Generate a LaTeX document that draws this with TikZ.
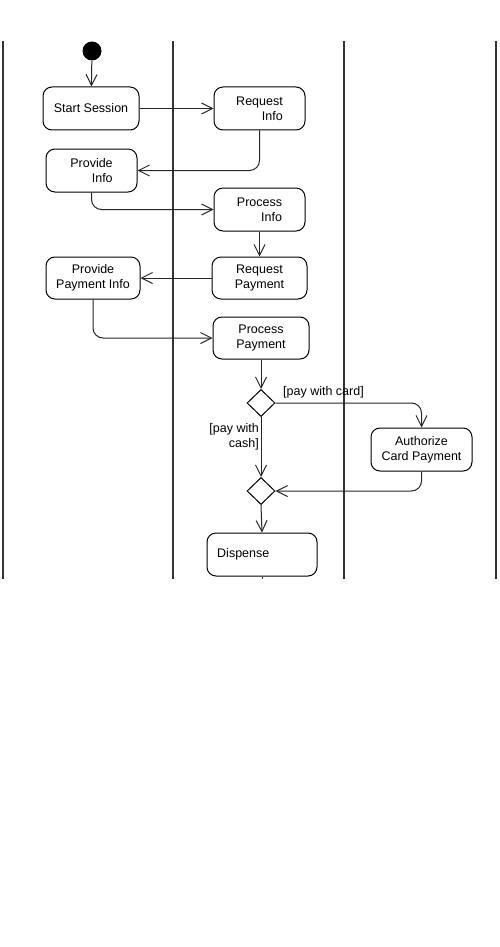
\documentclass[tikz,border=0pt]{standalone}
\usepackage{fontspec}
\setmainfont{Liberation Sans}
\usetikzlibrary{arrows.meta,shapes.geometric}
\begin{document}
\begin{tikzpicture}[x=1pt,y=-1pt,
  every node/.style={font=\fontsize{12.5}{15}\selectfont},
  act/.style={draw, line width=1pt, rounded corners=9pt, inner sep=0pt},
  dec/.style={draw, line width=1pt, diamond, inner sep=0pt, minimum width=28pt, minimum height=27pt},
  flow/.style={line width=1pt, draw=black!85, rounded corners=10pt, -{Straight Barb[length=11pt,width=11pt]}},
  lane/.style={line width=1.2pt, draw=black!80},
  lbl/.style={inner sep=0pt}
]
\useasboundingbox[fill=white] (0,0) rectangle (500,947);
% swimlane separators
\coordinate (l1t) at (3,41);   \coordinate (l1b) at (3,579);
\coordinate (l2t) at (173,41); \coordinate (l2b) at (173,579);
\coordinate (l3t) at (344,41); \coordinate (l3b) at (344,579);
\coordinate (l4t) at (496,41); \coordinate (l4b) at (496,579);
\draw[lane] (l1t) -- (l1b);
\draw[lane] (l2t) -- (l2b);
\draw[lane] (l3t) -- (l3b);
\draw[lane] (l4t) -- (l4b);
% nodes
\node[circle, fill=black, minimum size=19pt, inner sep=0pt] (init) at (92,51) {};
\node[act, minimum width=96pt, minimum height=43pt] (ss) at (91,108.5) {Start Session};
\node[act, minimum width=91pt, minimum height=43pt, align=right] (ri) at (259.5,108.5) {Request\\Info};
\node[act, minimum width=91pt, minimum height=43pt, align=right] (pvi) at (91.5,170.5) {Provide\\Info};
\node[act, minimum width=91pt, minimum height=43pt, align=right] (pci) at (259.5,209.5) {Process\\Info};
\node[act, minimum width=95pt, minimum height=42pt, align=center] (rp) at (259.5,278) {Request\\Payment};
\node[act, minimum width=94pt, minimum height=42pt, align=center] (ppi) at (93,278) {Provide\\Payment Info};
\node[act, minimum width=96pt, minimum height=42pt, align=center] (pp) at (261,338) {Process\\Payment};
\node[dec] (d1) at (261,403) {};
\node[act, minimum width=101pt, minimum height=43pt, align=center] (acp) at (421.5,449.5) {Authorize\\Card Payment};
\node[dec] (d2) at (261,491) {};
\node[act, minimum width=110pt, minimum height=43pt] (dis) at (262,554.5) {};
\node[lbl, anchor=west] (distxt) at (217,554.5) {Dispense};
\coordinate (disend) at (262,579);
% guards
\node[lbl, anchor=west] (gcard) at (283,392) {[pay with card]};
\node[lbl, anchor=east, align=right] (gcash) at (259,437) {[pay with\\cash]};
% flows
\draw[flow] (init) -- (ss);
\draw[flow] (ss) -- (ri);
\draw[flow] (ri.south) |- (pvi.east);
\draw[flow] (pvi.south) |- (pci.west);
\draw[flow] (pci) -- (rp);
\draw[flow] (rp) -- (ppi);
\draw[flow] (ppi.south) |- (pp.west);
\draw[flow] (pp) -- (d1);
\draw[flow] (d1.east) -| (acp.north);
\draw[flow] (d1.south) -- (d2.north);
\draw[flow] (acp.south) |- (d2.east);
\draw[flow] (d2.south) -- (dis.north);
\draw[line width=1pt, draw=black!85] (dis.south) -- (disend);
\end{tikzpicture}
\end{document}
